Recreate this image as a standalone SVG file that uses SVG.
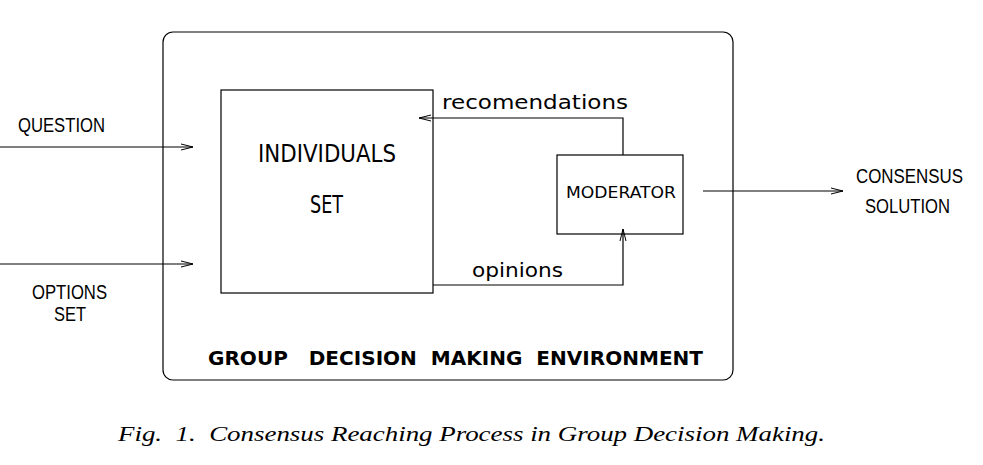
<svg xmlns="http://www.w3.org/2000/svg" width="983" height="465" viewBox="0 0 983 465">
<style>
text{white-space:pre}
.box{fill:none;stroke:#000;stroke-width:1.2}
.ln{fill:none;stroke:#000;stroke-width:1.2}
.h{font-family:"Liberation Sans",Arial,sans-serif;fill:#000}
.g{font-family:"DejaVu Sans","Liberation Sans",sans-serif;fill:#000}
.cap{font-family:"Liberation Serif","Times New Roman",serif;font-style:italic;fill:#000}
</style>
<defs>
<marker id="ah" viewBox="0 0 12 8" refX="12" refY="4" markerWidth="12" markerHeight="8" markerUnits="userSpaceOnUse" orient="auto">
<path d="M0,1 L12,4 L0,7" fill="none" stroke="#000" stroke-width="1"/>
</marker>
</defs>
<rect width="983" height="465" fill="#fff"/>
<g id="environment">
<rect class="box" x="163" y="32" width="570" height="348" rx="10"/>
<text class="g" x="208" y="365" font-size="19" font-weight="bold" textLength="495" lengthAdjust="spacingAndGlyphs">GROUP   DECISION  MAKING  ENVIRONMENT</text>
</g>
<g id="individuals">
<rect class="box" x="221" y="90" width="212" height="203"/>
<text class="g" x="258" y="162" font-size="24" textLength="138" lengthAdjust="spacingAndGlyphs">INDIVIDUALS</text>
<text class="g" x="310" y="213" font-size="24" textLength="33" lengthAdjust="spacingAndGlyphs">SET</text>
</g>
<g id="moderator">
<rect class="box" x="557" y="155" width="126" height="79"/>
<text class="g" x="566" y="198" font-size="15.5" textLength="110" lengthAdjust="spacingAndGlyphs">MODERATOR</text>
</g>
<g id="question">
<text class="h" x="18" y="132" font-size="19.5" textLength="87" lengthAdjust="spacingAndGlyphs">QUESTION</text>
</g>
<g id="options">
<text class="h" x="32" y="299" font-size="19.5" textLength="75" lengthAdjust="spacingAndGlyphs">OPTIONS</text>
<text class="h" x="54" y="321" font-size="19.5" textLength="32" lengthAdjust="spacingAndGlyphs">SET</text>
</g>
<g id="consensus">
<text class="h" x="856" y="183" font-size="19.5" textLength="107" lengthAdjust="spacingAndGlyphs">CONSENSUS</text>
<text class="h" x="865" y="213" font-size="19.5" textLength="85" lengthAdjust="spacingAndGlyphs">SOLUTION</text>
</g>
<g id="connectors">
<line class="ln" x1="0" y1="147" x2="193" y2="147" marker-end="url(#ah)"/>
<line class="ln" x1="0" y1="264" x2="193" y2="264" marker-end="url(#ah)"/>
<line class="ln" x1="703" y1="191" x2="843" y2="191" marker-end="url(#ah)"/>
<polyline class="ln" points="623,155 623,118 419,118" marker-end="url(#ah)"/>
<polyline class="ln" points="433,285 623,285 623,229" marker-end="url(#ah)"/>
<text class="g" x="442" y="109" font-size="19.5" textLength="186" lengthAdjust="spacingAndGlyphs">recomendations</text>
<text class="g" x="472" y="277" font-size="20" textLength="91" lengthAdjust="spacingAndGlyphs">opinions</text>
</g>
<text class="cap" x="118" y="441" font-size="21" textLength="707" lengthAdjust="spacingAndGlyphs">Fig.  1.  Consensus Reaching Process in Group Decision Making.</text>
</svg>
